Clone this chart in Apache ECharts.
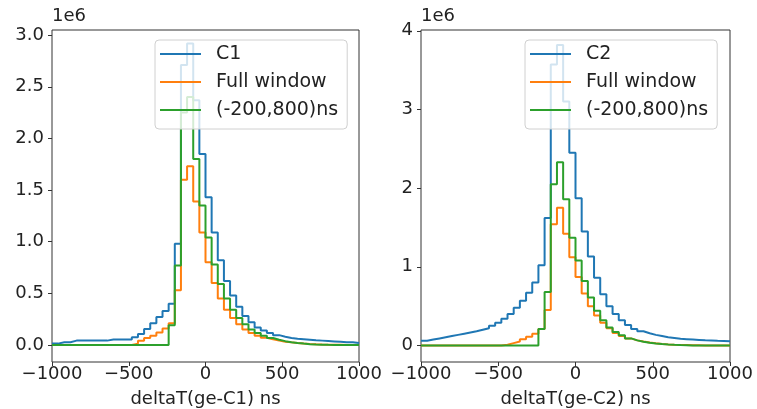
<!DOCTYPE html>
<html>
<head>
<meta charset="utf-8">
<script src="https://cdn.jsdelivr.net/npm/echarts@6/dist/echarts.min.js"></script>
<style>
  html, body { margin: 0; padding: 0; background: #ffffff; }
  #chart { width: 757px; height: 409px; }
</style>
</head>
<body>
<div id="chart"></div>
<script>
// Histogram binning: 50 bins of 40 ns from -1000 to 1000 ns
const binStart = -1000;
const binWidth = 40;
const binCount = 50;

// Counts per bin, in units of 1e6
const c1Total = [0.013, 0.026, 0.026, 0.042, 0.042, 0.042, 0.042, 0.042, 0.042, 0.052,
                 0.052, 0.052, 0.052, 0.074, 0.107, 0.155, 0.21, 0.27, 0.33, 0.40,
                 0.98, 2.71, 2.92, 2.37, 1.85, 1.43, 1.09, 0.82, 0.62, 0.48,
                 0.37, 0.28, 0.22, 0.17, 0.14, 0.115, 0.095, 0.08, 0.068, 0.06,
                 0.055, 0.05, 0.045, 0.042, 0.038, 0.034, 0.03, 0.026, 0.026, 0.02];
const c1Full = [0, 0, 0, 0, 0, 0, 0, 0, 0, 0,
                0, 0, 0, 0.013, 0.04, 0.068, 0.09, 0.12, 0.16, 0.21,
                0.53, 1.60, 1.73, 1.39, 1.09, 0.80, 0.60, 0.45, 0.34, 0.26,
                0.20, 0.15, 0.115, 0.09, 0.07, 0.055, 0.042, 0.032, 0.025, 0.018,
                0.013, 0.009, 0.006, 0.004, 0.003, 0.002, 0.001, 0, 0, 0];
const c1Window = [0, 0, 0, 0, 0, 0, 0, 0, 0, 0,
                  0, 0, 0, 0, 0, 0, 0, 0, 0, 0.19,
                  0.77, 2.25, 2.40, 1.80, 1.35, 1.04, 0.78, 0.59, 0.45, 0.34,
                  0.26, 0.20, 0.15, 0.115, 0.088, 0.067, 0.05, 0.037, 0.027, 0.019,
                  0.013, 0.008, 0.005, 0.003, 0.001, 0, 0, 0, 0, 0];

const c2Total = [0.06, 0.075, 0.09, 0.105, 0.12, 0.135, 0.15, 0.165, 0.18, 0.20,
                 0.22, 0.25, 0.29, 0.34, 0.40, 0.48, 0.57, 0.67, 0.80, 1.02,
                 1.62, 3.57, 3.82, 3.10, 2.45, 1.87, 1.45, 1.13, 0.86, 0.65,
                 0.50, 0.40, 0.32, 0.26, 0.21, 0.18, 0.155, 0.135, 0.12, 0.105,
                 0.095, 0.085, 0.08, 0.075, 0.07, 0.065, 0.063, 0.06, 0.058, 0.055];
const c2Full = [0, 0, 0, 0, 0, 0, 0, 0, 0, 0,
                0, 0, 0, 0.01, 0.03, 0.05, 0.08, 0.11, 0.15, 0.21,
                0.45, 1.54, 1.75, 1.42, 1.12, 0.87, 0.66, 0.50, 0.38, 0.29,
                0.22, 0.16, 0.12, 0.09, 0.065, 0.05, 0.037, 0.027, 0.02, 0.014,
                0.01, 0.007, 0.005, 0.003, 0.002, 0.001, 0, 0, 0, 0];
const c2Window = [0, 0, 0, 0, 0, 0, 0, 0, 0, 0,
                  0, 0, 0, 0, 0, 0, 0, 0, 0, 0.21,
                  0.68, 2.05, 2.33, 1.86, 1.37, 1.08, 0.82, 0.61, 0.44, 0.32,
                  0.23, 0.17, 0.13, 0.09, 0.065, 0.048, 0.035, 0.025, 0.018, 0.012,
                  0.008, 0.005, 0.003, 0.001, 0, 0, 0, 0, 0, 0];

// Tick labels
const xTicks = [-1000, -500, 0, 500, 1000];
const leftYTicks = [0, 0.5, 1.0, 1.5, 2.0, 2.5, 3.0];
const rightYTicks = [0, 1, 2, 3, 4];

const leftNames = ['C1', 'Full window', '(-200,800)ns'];
const rightNames = ['C2', 'Full window', '(-200,800)ns'];
const xTitles = ['deltaT(ge-C1) ns', 'deltaT(ge-C2) ns'];

const colors = ['#1f77b4', '#ff7f0e', '#2ca02c'];
const FONT = 'DejaVu Sans';
const TEXT = '#222222';
const FRAME = '#333333';
const FS = 18;

// Turn bin counts into step-outline points at the bin edges
function stepPoints(values) {
  const pts = values.map((v, i) => [binStart + i * binWidth, v]);
  pts.push([binStart + binCount * binWidth, values[values.length - 1]]);
  return pts;
}

function histSeries(name, values, idx, color) {
  return {
    name: name,
    type: 'line',
    step: 'end',
    xAxisIndex: idx,
    yAxisIndex: idx,
    data: stepPoints(values),
    showSymbol: false,
    symbol: 'none',
    color: color,
    itemStyle: { color: color },
    lineStyle: { color: color, width: 2 },
    clip: true,
    animation: false
  };
}

function xAxisFor(idx) {
  return {
    type: 'value',
    gridIndex: idx,
    min: -1000,
    max: 1000,
    interval: 500,
    name: xTitles[idx],
    nameLocation: 'middle',
    nameGap: 28,
    nameTextStyle: { fontFamily: FONT, fontSize: FS, color: TEXT },
    axisLine: { show: false, onZero: false },
    axisTick: { show: true, length: 4, lineStyle: { color: FRAME, width: 1 }, customValues: xTicks },
    axisLabel: {
      margin: 3, fontFamily: FONT, fontSize: FS, color: TEXT,
      customValues: xTicks,
      formatter: v => String(v).replace('-', '\u2212')
    },
    splitLine: { show: false }
  };
}

function yAxisFor(idx, min, max, ticks, digits) {
  return {
    type: 'value',
    gridIndex: idx,
    min: min,
    max: max,
    axisLine: { show: false, onZero: false },
    axisTick: { show: true, length: 4, lineStyle: { color: FRAME, width: 1 }, customValues: ticks },
    axisLabel: {
      margin: 8, fontFamily: FONT, fontSize: FS, color: TEXT,
      customValues: ticks,
      formatter: v => v.toFixed(digits)
    },
    splitLine: { show: false }
  };
}

function legendFor(left, names) {
  return {
    left: left,
    top: 40,
    orient: 'vertical',
    icon: 'rect',
    itemWidth: 41,
    itemHeight: 2,
    itemGap: 6,
    padding: [3, 9, 8, 5],
    backgroundColor: 'rgba(255,255,255,0.8)',
    borderColor: '#d0d0d0',
    borderWidth: 1,
    borderRadius: 4,
    selectedMode: false,
    z: 10,
    textStyle: { fontFamily: FONT, fontSize: 19, color: TEXT, lineHeight: 22, padding: [0, 0, 0, 10] },
    data: names.map((n, i) => ({ name: n, itemStyle: { color: colors[i] } }))
  };
}

function gridAt(left, width) {
  return {
    left: left, top: 30, width: width, height: 332,
    containLabel: false,
    outerBoundsMode: 'none',
    show: true, borderColor: FRAME, borderWidth: 1, backgroundColor: 'transparent'
  };
}

const chart = echarts.init(document.getElementById('chart'), null, { renderer: 'canvas' });

chart.setOption({
  backgroundColor: '#ffffff',
  animation: false,
  grid: [gridAt(52, 307), gridAt(421, 309)],
  xAxis: [xAxisFor(0), xAxisFor(1)],
  yAxis: [
    yAxisFor(0, -0.165, 3.05, leftYTicks, 1),
    yAxisFor(1, -0.21, 4.01, rightYTicks, 0)
  ],
  legend: [legendFor(155, leftNames), legendFor(525, rightNames)],
  graphic: [
    { type: 'text', left: 52, top: 7, style: { text: '1e6', font: '18px "DejaVu Sans"', fill: TEXT } },
    { type: 'text', left: 421, top: 7, style: { text: '1e6', font: '18px "DejaVu Sans"', fill: TEXT } }
  ],
  series: [
    histSeries(leftNames[0], c1Total, 0, colors[0]),
    histSeries(leftNames[1], c1Full, 0, colors[1]),
    histSeries(leftNames[2], c1Window, 0, colors[2]),
    histSeries(rightNames[0], c2Total, 1, colors[0]),
    histSeries(rightNames[1], c2Full, 1, colors[1]),
    histSeries(rightNames[2], c2Window, 1, colors[2])
  ]
});
</script>
</body>
</html>
